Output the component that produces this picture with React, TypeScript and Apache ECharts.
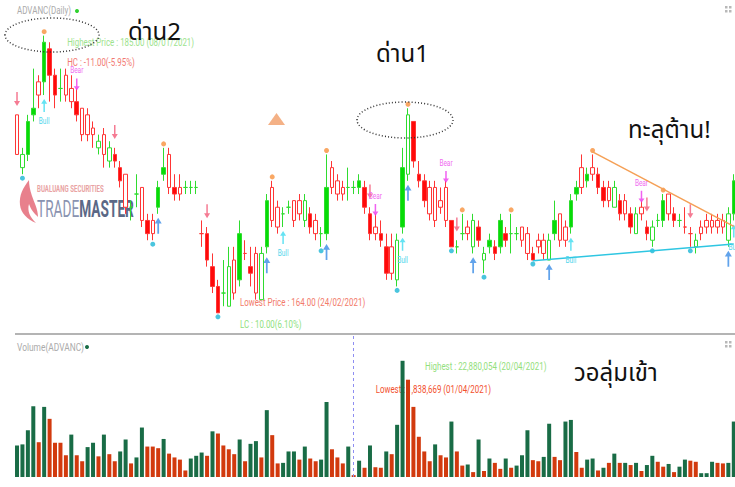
import React, { useEffect, useRef } from "react";
import * as echarts from "echarts";

// ---------- DATA ----------
const START_DATE = "2020-12-30";
const HOLIDAYS = [
  "2020-12-31", "2021-01-01", "2021-02-12", "2021-02-26", "2021-04-06",
  "2021-04-13", "2021-04-14", "2021-04-15", "2021-05-03", "2021-05-04",
  "2021-05-26", "2021-06-03", "2021-07-26", "2021-07-28",
];

const opens = [
  179, 175, 176, 179, 181.5, 181.5, 184, 182, 181, 182,
  181, 180, 179.5, 179, 178, 176.5, 177.5, 175.5, 176, 175,
  174.5, 172, 173, 173.5, 171, 171, 172, 174.5, 176, 173.5,
  173.5, 173.5, 173.5, 173.5, 170, 170, 167.5, 166, 165.5, 164.5,
  168, 166.5, 168.5, 167.5, 168.5, 165, 169, 173.5, 172, 171.5,
  172, 172.5, 172.5, 171, 171.5, 171, 170, 170, 175, 174,
  173.5, 173.5, 173.5, 173.5, 173.5, 171.5, 170.5, 170, 169, 169,
  166.5, 170.5, 174.5, 178.5, 174.5, 174, 173.5, 173.5, 172.5, 173.5,
  171, 169, 170, 170.5, 169, 170.5, 168, 169, 169, 169,
  170, 170, 170, 170.5, 170, 168.5, 169.5, 169.5, 168, 170,
  171.5, 170.5, 170.5, 173, 175, 174, 175, 174.5, 173.5, 173.5,
  172, 172.5, 172.5, 171.5, 170, 172, 170.5, 169.5, 171, 171,
  173, 171.5, 171, 170.5, 170, 169, 170.5, 171, 171, 171,
  171, 169.5, 171.5,
];
const closes = [
  176, 176, 178.5, 179.5, 180.5, 184.5, 182, 180.5, 181, 180.5,
  180, 179, 177.5, 177.5, 177.5, 177, 176, 176.5, 175.5, 174,
  172, 172, 173, 171, 170, 170, 173.5, 175, 173.5, 173,
  173, 173.5, 173.5, 173.5, 170, 168, 166, 164, 165.5, 167.5,
  165.5, 170, 168.5, 167, 165.5, 168.5, 172.5, 171, 170.5, 171.5,
  172, 171, 171.5, 172.5, 170.5, 170, 170, 173.5, 173.5, 173,
  173, 173.5, 173.5, 174, 172, 170, 170, 169.5, 167, 167,
  169.5, 175, 179, 175.5, 174, 172.5, 171.5, 171, 172, 171,
  169, 169, 170, 170, 171, 169.5, 168.5, 169.5, 168.5, 171,
  169.5, 170, 170, 169.5, 168.5, 168, 169, 168.5, 169.5, 171,
  169.5, 169.5, 172.5, 173.5, 173.5, 174.5, 174.5, 173.5, 172.5, 172.5,
  173.5, 171.5, 171.5, 170.5, 171.5, 171.5, 170, 170.5, 171, 172.5,
  171.5, 171, 171, 170.5, 170, 169.5, 170, 170.5, 170.5, 170.5,
  170.5, 171.5, 174,
];
const lows = [
  176, 174.5, 175.5, 178.5, 179.5, 180.5, 180, 179.5, 180, 180,
  179.5, 178.5, 177, 177, 176.5, 176, 175, 175, 175, 173.5,
  171.5, 171, 172, 170.5, 169.5, 169.5, 171.5, 174, 173, 172.5,
  172.5, 173, 173, 173, 169, 167.5, 165.5, 164, 164.5, 164.5,
  165, 166, 168, 166, 165, 165, 168.5, 170.5, 170, 170.5,
  171.5, 170.5, 171, 170.5, 170, 169.5, 169, 169.5, 173, 172.5,
  172.5, 172.5, 173, 173, 171.5, 169.5, 169.5, 169, 166.5, 166.5,
  166, 170, 174, 175, 173.5, 172, 171, 170.5, 171.5, 170.5,
  169, 168.5, 169.5, 169.5, 168.5, 169, 167, 168.5, 168, 168.5,
  169, 168.5, 169.5, 169, 168, 168, 168.5, 168, 168, 169.5,
  169, 169, 170, 172.5, 173, 173.5, 174, 173, 172, 172,
  172, 171, 171, 170, 170, 171, 169.5, 169, 170.5, 170.5,
  171, 170.5, 170.5, 170, 169, 168.5, 169.5, 170, 170, 170,
  170, 169, 171,
];
const highs = [
  179, 176.5, 179, 182.5, 182, 185, 184.5, 182.5, 182.5, 182.5,
  182, 181, 179.5, 179.5, 178.5, 177.5, 178, 177, 176.5, 175.5,
  174.5, 172.5, 174.5, 173.5, 171.5, 171.5, 174, 176.5, 176.5, 174.5,
  174.5, 174, 174, 174, 171, 170.5, 168.5, 166.5, 168, 169,
  169, 171, 169.5, 169, 169, 169, 173, 174, 172.5, 172,
  172.5, 172.5, 173, 173, 172, 171.5, 170.5, 176, 175.5, 174.5,
  174, 175, 174, 174.5, 174, 172, 171.5, 171, 170, 170,
  170, 176.5, 179.5, 178.5, 175.5, 174.5, 174, 174, 173.5, 174,
  171, 169.5, 171.5, 171, 171.5, 171, 169, 170, 169.5, 171.5,
  170.5, 171.5, 170.5, 170.5, 170.5, 169, 170, 170, 170, 172.5,
  171.5, 171, 173, 174, 176, 175, 176, 175, 174, 174,
  174, 173, 173, 172, 172, 172.5, 171, 171, 171.5, 173,
  173, 172, 171.5, 172, 170.5, 170, 171, 171.5, 171.5, 171.5,
  171.5, 172, 174.5,
];
// volume in millions of shares
const volumesM = [
  7.3, 7.5, 10.1, 14.5, 7.9, 14.4, 12.2, 7.8, 7.8, 5.5,
  9.3, 5.5, 4.4, 7.0, 7.8, 5.3, 9.3, 5.7, 4.4, 6.2,
  8.4, 4.0, 5.1, 10.6, 7.1, 7.1, 6.8, 8.5, 5.8, 5.1,
  4.7, 2.7, 4.9, 5.4, 6.0, 5.4, 9.9, 9.5, 7.3, 6.6,
  5.7, 8.4, 4.4, 7.6, 8.1, 5.1, 13.8, 9.2, 4.0, 4.1,
  6.2, 6.2, 4.7, 7.1, 4.9, 4.4, 4.7, 15.3, 6.6, 5.1,
  4.0, 7.1, 1.838669, 4.5, 3.2, 7.3, 3.3, 3.2, 6.2, 5.7,
  11.1, 22.880054, 19.4, 14.4, 8.9, 6.2, 4.4, 7.5, 5.5, 5.1,
  11.7, 6.2, 3.6, 3.8, 2.4, 8.4, 2.6, 4.9, 4.1, 3.0,
  4.9, 3.2, 3.6, 5.5, 10.1, 4.6, 4.4, 5.2, 11.3, 5.2,
  4.6, 11.7, 12.0, 6.1, 3.2, 4.7, 4.9, 2.7, 3.2, 4.1,
  5.8, 4.1, 4.1, 3.7, 4.1, 2.6, 3.7, 5.4, 4.3, 3.4,
  3.9, 2.4, 3.4, 4.7, 4.5, 4.3, 2.2, 2.2, 4.3, 4.1,
  4.0, 4.1, 11.7,
];
// volume direction as shown in the volume panel (1 = up day, 0 = down day)
const volumeDirection = [
  1, 1, 1, 1, 0, 1, 0, 0, 0, 0,
  1, 0, 0, 1, 1, 0, 1, 0, 0, 1,
  1, 0, 1, 1, 0, 0, 0, 1, 0, 0,
  0, 0, 1, 1, 1, 0, 1, 0, 0, 0,
  0, 1, 0, 1, 1, 0, 1, 0, 0, 1,
  1, 1, 0, 1, 0, 0, 1, 1, 0, 0,
  0, 1, 0, 1, 0, 1, 0, 0, 1, 0,
  1, 1, 0, 0, 0, 0, 0, 1, 0, 0,
  1, 0, 0, 1, 0, 1, 0, 1, 0, 0,
  1, 0, 1, 1, 1, 0, 0, 1, 1, 0,
  0, 1, 1, 0, 0, 1, 1, 0, 1, 0,
  1, 0, 1, 0, 1, 0, 1, 1, 0, 0,
  1, 0, 1, 1, 0, 0, 1, 1, 1, 0,
  0, 1, 1,
];

// signal / pivot markers (candle indices)
const swingHighIdx = [5, 27, 47, 57, 72, 82, 91, 106, 119];
const swingLowIdx = [1, 25, 37, 56, 70, 80, 86, 95, 117, 124];
const sellIdx = [0, 18, 35, 65, 81, 116, 124];
const bearIdx = [11, 66, 79, 115];
const bullIdx = [5, 49, 71, 102, 132];
const buyIdx = [26, 46, 57, 72, 84, 98, 131];

// drawn trend lines: [candle index, price]
const resistanceLine = [[106, 176.2], [132, 170.55]];
const supportLine = [[95, 167.94], [132, 169.22]];

// ---------- helpers ----------
function tradingDates(start: string, count: number, holidays: string[]) {
  const out: string[] = [];
  const hs = new Set(holidays);
  const d = new Date(start + "T00:00:00Z");
  while (out.length < count) {
    const iso = d.toISOString().slice(0, 10);
    const wd = d.getUTCDay();
    if (wd !== 0 && wd !== 6 && !hs.has(iso)) {
      out.push(`${iso.slice(8, 10)}/${iso.slice(5, 7)}/${iso.slice(0, 4)}`);
    }
    d.setUTCDate(d.getUTCDate() + 1);
  }
  return out;
}

const SANS = "Roboto, 'Liberation Sans', sans-serif";
const THAI = "'Noto Sans Thai', 'Noto Sans Thai UI', 'Noto Sans', 'DejaVu Sans', sans-serif";

const FLAME_D =
  "M10 0 C4 8 0 15 1 25 C2 33 8 39 17 43 C11 37 8 31 10 24 C12 30 15 33 19 37 C19 29 15 22 13 16 C11 10 10 5 10 0 Z";
let shapesRegistered = false;
function ensureShapes() {
  if (shapesRegistered) return;
  echarts.graphic.registerShape("logoFlame", echarts.graphic.extendPath(FLAME_D, {}) as any);
  shapesRegistered = true;
}

const ARROW_DOWN = "path://M3,0 L5,0 L5,9 L8,9 L4,14 L0,9 L3,9 Z";
const ARROW_UP = "path://M4,0 L8,5 L5,5 L5,14 L3,14 L3,5 L0,5 Z";

const G_LINE = "#2fdc2f";
const G_FILL = "#06dc06";
const R_LINE = "#ff3535";
const R_FILL = "#ff0a0a";
const V_UP = "#196c46";
const V_DN = "#d23a0e";

function txt(x: number, y: number, text: string, fill: string, font: string, scaleX = 1, align = "left", z = 100) {
  return {
    type: "text", x, y, scaleX, z, silent: true,
    style: { text, fill, font, textAlign: align, textVerticalAlign: "middle" },
  };
}

export default function App() {
  const ref = useRef<HTMLDivElement>(null);

  useEffect(() => {
    if (!ref.current) return;
    ensureShapes();
    const chart = echarts.init(ref.current, undefined, { renderer: "svg" });
    const N = opens.length;
    const dates = tradingDates(START_DATE, N, HOLIDAYS);
    const volumes = volumesM.map((v) => Math.round(v * 1e6));

    const isUp = (i: number) => {
      const prevC = i > 0 ? closes[i - 1] : closes[i];
      return closes[i] > opens[i] || (closes[i] === opens[i] && closes[i] >= prevC);
    };

    // colour by candle direction; solid body when the whole body sits on one side of the previous close
    const candleData = opens.map((o, i) => {
      const c = closes[i];
      const up = isUp(i);
      let filled = false;
      if (i > 0) {
        const prevC = closes[i - 1];
        filled = up ? o >= prevC : o <= prevC;
      }
      const line = up ? G_LINE : R_LINE;
      const fill = filled ? (up ? G_FILL : R_FILL) : "#ffffff";
      return {
        value: [o, c, lows[i], highs[i]],
        itemStyle: { color: fill, color0: fill, borderColor: line, borderColor0: line, borderColorDoji: line },
      };
    });

    const volData = volumes.map((v, i) => ({ value: v, itemStyle: { color: volumeDirection[i] ? V_UP : V_DN } }));

    // stats for labels
    let maxIdx = 0, minIdx = 0;
    highs.forEach((h, i) => { if (h > highs[maxIdx]) maxIdx = i; });
    lows.forEach((l, i) => { if (l < lows[minIdx]) minIdx = i; });
    const maxHigh = highs[maxIdx];
    const minLow = lows[minIdx];
    const lastClose = closes[N - 1];
    const hc = lastClose - maxHigh;
    const lc = lastClose - minLow;
    let vMax = 0, vMin = 0;
    volumes.forEach((v, i) => { if (v > volumes[vMax]) vMax = i; if (v < volumes[vMin]) vMin = i; });
    const fmtN = (n: number) => n.toLocaleString("en-US");

    const scatterBase = { type: "scatter", xAxisIndex: 0, yAxisIndex: 0, z: 4, silent: true };

    const option: any = {
      animation: false,
      backgroundColor: "#ffffff",
      textStyle: { fontFamily: SANS },
      grid: [
        { left: 14.3, top: 0, width: 722.2, height: 330 },
        { left: 14.3, top: 336, width: 722.2, height: 141 },
      ],
      xAxis: [
        { type: "category", gridIndex: 0, data: dates, show: false, boundaryGap: true },
        { type: "category", gridIndex: 1, data: dates, show: false, boundaryGap: true },
      ],
      yAxis: [
        { type: "value", gridIndex: 0, min: 162.7, max: 187.7, show: false, scale: true },
        { type: "value", gridIndex: 1, min: 1.5e6, max: 27.44e6, show: false },
      ],
      series: [
        {
          type: "candlestick", name: "ADVANC", xAxisIndex: 0, yAxisIndex: 0, barWidth: 4, z: 3,
          itemStyle: { borderWidth: 1 },
          data: candleData,
        },
        {
          type: "line", xAxisIndex: 0, yAxisIndex: 0, data: resistanceLine, symbol: "none", z: 5, silent: true,
          lineStyle: { color: "#f5a056", width: 1.5 },
        },
        {
          type: "line", xAxisIndex: 0, yAxisIndex: 0, data: supportLine, symbol: "none", z: 5, silent: true,
          lineStyle: { color: "#2ec6e2", width: 1.5 },
        },
        { ...scatterBase, symbol: "circle", symbolSize: 5, itemStyle: { color: "#f7913c" },
          data: swingHighIdx.map((i) => [i, highs[i] + 0.3]) },
        { ...scatterBase, symbol: "circle", symbolSize: 5, itemStyle: { color: "#1db6d6" },
          data: swingLowIdx.map((i) => [i, lows[i] - 0.3]) },
        { ...scatterBase, symbol: ARROW_DOWN, symbolSize: [6, 14], itemStyle: { color: "#f25a78" },
          data: sellIdx.map((i) => [i, highs[i] + 1.2]) },
        { ...scatterBase, symbol: ARROW_DOWN, symbolSize: [6, 12], itemStyle: { color: "#ee3aee" },
          data: bearIdx.map((i) => [i, highs[i] + 0.3]) },
        { ...scatterBase, symbol: ARROW_UP, symbolSize: [6, 13], itemStyle: { color: "#3fdcf0" },
          data: bullIdx.map((i) => [i, lows[i] - 0.8]) },
        { ...scatterBase, symbol: ARROW_UP, symbolSize: [7, 16], itemStyle: { color: "#3a8ce6" },
          data: buyIdx.map((i) => [i, lows[i] - 0.9]) },
        {
          type: "bar", name: "Volume", xAxisIndex: 1, yAxisIndex: 1, barWidth: 4, z: 3, data: volData,
          markLine: {
            silent: true, symbol: "none", label: { show: false },
            lineStyle: { color: "#8e8ef2", type: [3, 3], width: 1 },
            data: [{ xAxis: dates[vMin] }],
          },
        },
      ],
    };

    chart.setOption(option);

    // data-anchored texts (narrow font emulated with scaleX)
    const p0 = (i: number, v: number) => chart.convertToPixel({ gridIndex: 0 }, [i, v]) as number[];
    const p1 = (i: number, v: number) => chart.convertToPixel({ gridIndex: 1 }, [i, v]) as number[];
    const LBL = `11px ${SANS}`;
    const SX = 0.72;
    const hi = p0(maxIdx, maxHigh);
    const lo = p0(minIdx, minLow);
    const vh = p1(vMax, volumes[vMax]);
    const vl = p1(vMin, volumes[vMax]);

    const dataTexts: any[] = [
      txt(hi[0] + 23, hi[1] + 6, `Highest Price : ${maxHigh.toFixed(2)} (${dates[maxIdx]})`, "#9de38e", LBL, SX, "left", 2),
      txt(hi[0] + 23, hi[1] + 26, `HC : ${hc.toFixed(2)}(${((hc / maxHigh) * 100).toFixed(2)}%)`, "#f27a72", LBL, SX, "left", 2),
      txt(lo[0] + 22, lo[1] - 11, `Lowest Price : ${minLow.toFixed(2)} (${dates[minIdx]})`, "#f27a6a", LBL, SX, "left", 2),
      txt(lo[0] + 22, lo[1] + 11, `LC : ${lc.toFixed(2)}(${((lc / minLow) * 100).toFixed(2)}%)`, "#8fdf80", LBL, SX, "left", 2),
      txt(vh[0] + 22.5, vh[1] + 5, `Highest : ${fmtN(volumes[vMax])} (${dates[vMax]})`, "#93e07c", LBL, SX, "left", 0),
      txt(vl[0] + 22, vl[1] + 28, `Lowest : ${fmtN(volumes[vMin])} (${dates[vMin]})`, "#f2502e", LBL, SX, "left", 0),
      ...bearIdx.map((i) => {
        const p = p0(i, highs[i] + 1.35);
        return txt(p[0], p[1], "Bear", "#f06cf0", `9px ${SANS}`, 0.72, "center", 6);
      }),
      ...bullIdx.map((i) => {
        const p = p0(i, lows[i] - 2.0);
        return txt(p[0], p[1], "Bull", "#4fd6ec", `9px ${SANS}`, 0.72, "center", 6);
      }),
    ];

    const graphic: any[] = [
      txt(17, 11, "ADVANC(Daily)", "#ababab", `10px ${SANS}`, 0.8),
      { type: "circle", shape: { cx: 77, cy: 11, r: 2 }, style: { fill: "#2fd12f" }, silent: true, z: 100 },
      txt(17, 347, "Volume(ADVANC)", "#ababab", `10px ${SANS}`, 0.84),
      { type: "circle", shape: { cx: 87, cy: 347, r: 2 }, style: { fill: "#196c46" }, silent: true, z: 100 },
      { type: "line", shape: { x1: 15, y1: 334, x2: 735, y2: 334 }, style: { stroke: "#b4b4b4", lineWidth: 2 }, silent: true, z: 100 },
      // dotted ellipses
      { type: "ellipse", shape: { cx: 52, cy: 35, rx: 47, ry: 17 }, silent: true, z: 100,
        style: { fill: "none", stroke: "#333", lineWidth: 1.5, lineDash: [1, 2.2] } },
      { type: "ellipse", shape: { cx: 405, cy: 120, rx: 48, ry: 18 }, silent: true, z: 100,
        style: { fill: "none", stroke: "#333", lineWidth: 1.5, lineDash: [1, 2.2] } },
      // Thai annotations
      txt(128, 33, "ด่าน2", "#111", `24px ${THAI}`),
      txt(376, 55, "ด่าน1", "#111", `24px ${THAI}`),
      txt(628, 131, "ทะลุต้าน!", "#111", `24px ${THAI}`),
      txt(574, 374, "วอลุ่มเข้า", "#111", `24px ${THAI}`),
      // orange triangle
      { type: "polygon", shape: { points: [[268, 125], [285, 125], [276.5, 113]] }, style: { fill: "#f4b186" }, silent: true, z: 100 },
      // logo
      { type: "logoFlame", x: 19, y: 180, style: { fill: "#e46a78", opacity: 0.85 }, silent: true, z: 1 },
      txt(37, 189, "BUALUANG SECURITIES", "#e9a3a3", `bold 8.5px ${SANS}`, 0.72, "left", 1),
      {
        type: "text", x: 37, y: 209, scaleX: 0.57, silent: true, z: 1,
        style: {
          text: "{a|TRADE}{b|MASTER}", textVerticalAlign: "middle",
          rich: {
            a: { fill: "#8a93b0", font: `24px ${SANS}` },
            b: { fill: "#5b6886", font: `bold 24px ${SANS}` },
          },
        },
      },
      // panel icons
      ...[6, 341].flatMap((yy) =>
        [0, 4].flatMap((dx) => [0, 4].map((dy) => ({
          type: "rect", shape: { x: 725 + dx, y: yy + dy, width: 2.5, height: 2.5 }, style: { fill: "#b8b8b8" }, silent: true, z: 100,
        })))
      ),
      ...dataTexts,
    ];

    chart.setOption({ graphic });
    return () => chart.dispose();
  }, []);

  return (
    <div style={{ position: "fixed", left: 0, top: 0, width: 735, height: 487, overflow: "hidden", background: "#fff" }}>
      <div ref={ref} style={{ width: 760, height: 487 }} />
    </div>
  );
}
